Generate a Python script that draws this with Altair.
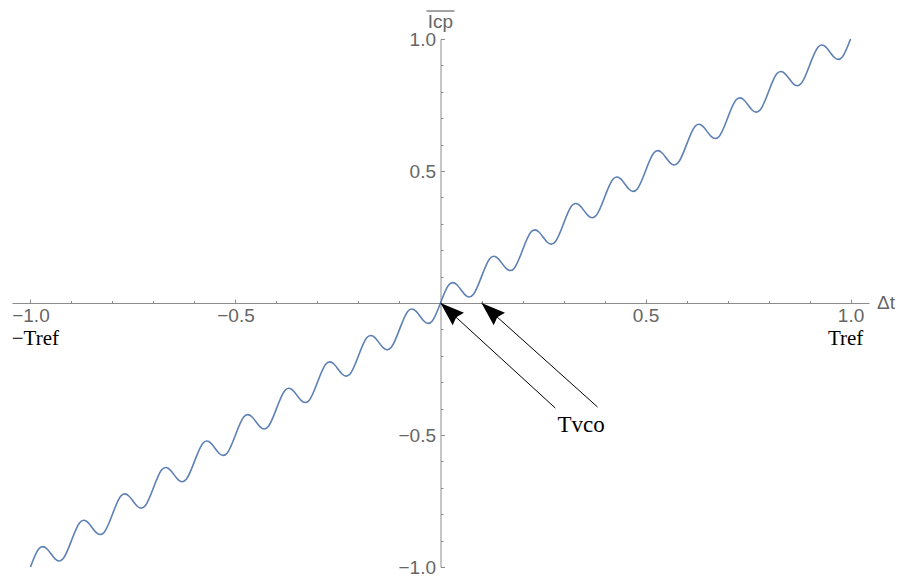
import altair as alt
import pandas as pd

# Charge-pump current versus phase offset, normalised to Tref
dt = [-1.00, -0.98, -0.96, -0.94, -0.92, -0.90, -0.88, -0.86, -0.84, -0.82,
      -0.80, -0.78, -0.76, -0.74, -0.72, -0.70, -0.68, -0.66, -0.64, -0.62,
      -0.60, -0.58, -0.56, -0.54, -0.52, -0.50, -0.48, -0.46, -0.44, -0.42,
      -0.40, -0.38, -0.36, -0.34, -0.32, -0.30, -0.28, -0.26, -0.24, -0.22,
      -0.20, -0.18, -0.16, -0.14, -0.12, -0.10, -0.08, -0.06, -0.04, -0.02,
      0.00, 0.02, 0.04, 0.06, 0.08, 0.10, 0.12, 0.14, 0.16, 0.18,
      0.20, 0.22, 0.24, 0.26, 0.28, 0.30, 0.32, 0.34, 0.36, 0.38,
      0.40, 0.42, 0.44, 0.46, 0.48, 0.50, 0.52, 0.54, 0.56, 0.58,
      0.60, 0.62, 0.64, 0.66, 0.68, 0.70, 0.72, 0.74, 0.76, 0.78,
      0.80, 0.82, 0.84, 0.86, 0.88, 0.90, 0.92, 0.94, 0.96, 0.98,
      1.00]
icp = [-1.000, -0.932, -0.931, -0.969, -0.968,
       -0.900, -0.832, -0.831, -0.869, -0.868,
       -0.800, -0.732, -0.731, -0.769, -0.768,
       -0.700, -0.632, -0.631, -0.669, -0.668,
       -0.600, -0.532, -0.531, -0.569, -0.568,
       -0.500, -0.432, -0.431, -0.469, -0.468,
       -0.400, -0.332, -0.331, -0.369, -0.368,
       -0.300, -0.232, -0.231, -0.269, -0.268,
       -0.200, -0.132, -0.131, -0.169, -0.168,
       -0.100, -0.032, -0.031, -0.069, -0.068,
       0.000, 0.068, 0.069, 0.031, 0.032,
       0.100, 0.168, 0.169, 0.131, 0.132,
       0.200, 0.268, 0.269, 0.231, 0.232,
       0.300, 0.368, 0.369, 0.331, 0.332,
       0.400, 0.468, 0.469, 0.431, 0.432,
       0.500, 0.568, 0.569, 0.531, 0.532,
       0.600, 0.668, 0.669, 0.631, 0.632,
       0.700, 0.768, 0.769, 0.731, 0.732,
       0.800, 0.868, 0.869, 0.831, 0.832,
       0.900, 0.968, 0.969, 0.931, 0.932,
       1.000]

# Tick positions
major_ticks = [-1.0, -0.5, 0.5, 1.0]
minor_ticks = [-0.9, -0.8, -0.7, -0.6, -0.4, -0.3, -0.2, -0.1,
               0.1, 0.2, 0.3, 0.4, 0.6, 0.7, 0.8, 0.9]

# Arrows labelled "Tvco": tips on the axis, tails near the label
arrow_tip_x = [0.0, 0.1]
arrow_tip_y = [0.0, 0.0]
arrow_tail_x = [0.280, 0.383]
arrow_tail_y = [-0.398, -0.394]

W, H = 857, 528
X_DOM = [-1.045, 1.045]
Y_DOM = [-1.0, 1.0]
AXIS_GREY = "#8c8c8c"
LABEL_GREY = "#666666"
BLUE = "#5E81B5"

curve_df = pd.DataFrame({"dt": dt, "icp": icp})
arrows_df = pd.DataFrame({"x": arrow_tip_x, "y": arrow_tip_y,
                          "x2": arrow_tail_x, "y2": arrow_tail_y})

xs = alt.Scale(domain=X_DOM, nice=False, zero=False)
ys = alt.Scale(domain=Y_DOM, nice=False, zero=False)


def x_axis(**kw):
    base = dict(grid=False, title=None, offset=-H / 2)
    base.update(kw)
    return alt.Axis(**base)


def y_axis(**kw):
    base = dict(grid=False, title=None, offset=-W / 2)
    base.update(kw)
    return alt.Axis(**base)


label_font = dict(labelFont="Liberation Sans", labelFontSize=19,
                  labelColor=LABEL_GREY, labelOverlap=False, labelFlush=False)

curve = alt.Chart(curve_df).mark_line(
    interpolate="natural", color=BLUE, strokeWidth=1.6
).encode(
    x=alt.X("dt:Q", scale=xs,
            axis=x_axis(orient="bottom", values=major_ticks, format=".1f",
                        ticks=False, domain=True, domainColor=AXIS_GREY,
                        domainWidth=1, labelPadding=3, **label_font)),
    y=alt.Y("icp:Q", scale=ys,
            axis=y_axis(orient="left", values=major_ticks, format=".1f",
                        ticks=False, domain=True, domainColor=AXIS_GREY,
                        domainWidth=1, labelPadding=5, **label_font)),
)

minor_layer = alt.Chart(curve_df).mark_line(opacity=0).encode(
    x=alt.X("dt:Q", scale=xs,
            axis=x_axis(orient="top", values=minor_ticks, labels=False,
                        domain=False, ticks=True, tickSize=2.5,
                        tickColor=AXIS_GREY, tickWidth=1)),
    y=alt.Y("icp:Q", scale=ys,
            axis=y_axis(orient="right", values=minor_ticks, labels=False,
                        domain=False, ticks=True, tickSize=2.5,
                        tickColor=AXIS_GREY, tickWidth=1)),
)

major_layer = alt.Chart(curve_df).mark_line(opacity=0).encode(
    x=alt.X("dt:Q", scale=xs,
            axis=x_axis(orient="top", values=major_ticks, labels=False,
                        domain=False, ticks=True, tickSize=4,
                        tickColor=AXIS_GREY, tickWidth=1)),
    y=alt.Y("icp:Q", scale=ys,
            axis=y_axis(orient="right", values=major_ticks, labels=False,
                        domain=False, ticks=True, tickSize=4,
                        tickColor=AXIS_GREY, tickWidth=1)),
)

plain_x = alt.X("x:Q", scale=xs, axis=None)
plain_y = alt.Y("y:Q", scale=ys, axis=None)

arrow_lines = alt.Chart(arrows_df).mark_rule(color="black", strokeWidth=1).encode(
    x=plain_x, y=plain_y, x2="x2:Q", y2="y2:Q"
)

arrow_heads = alt.Chart(arrows_df).mark_point(
    shape="M0,0 L-3,-1.05 L-2.65,0 L-3,1.05 Z",
    size=256, angle=222, filled=True, color="black", opacity=1,
    strokeWidth=0,
).encode(x=plain_x, y=plain_y)

tvco = alt.Chart(pd.DataFrame({"x": [0.343], "y": [-0.489], "t": ["Tvco"]})).mark_text(
    font="Liberation Serif", fontSize=23, color="black",
    align="center", baseline="alphabetic"
).encode(x=plain_x, y=plain_y, text="t:N")

tref = alt.Chart(pd.DataFrame({"x": [-0.988, 0.988], "y": [0.0, 0.0],
                               "t": ["\u2212Tref", "Tref"]})).mark_text(
    font="Liberation Serif", fontSize=21, color="black",
    align="center", baseline="alphabetic", dy=42
).encode(x=plain_x, y=plain_y, text="t:N")

dt_title = alt.Chart(pd.DataFrame({"x": [X_DOM[1]], "y": [0.0], "t": ["\u0394t"]})).mark_text(
    font="Liberation Sans", fontSize=19, color=LABEL_GREY,
    align="left", baseline="middle", dx=8
).encode(x=plain_x, y=plain_y, text="t:N")

icp_title = alt.Chart(pd.DataFrame({"x": [0.0], "y": [1.0], "t": ["Icp"]})).mark_text(
    font="Liberation Sans", fontSize=19, color=LABEL_GREY,
    align="center", baseline="alphabetic", dy=-11
).encode(x=plain_x, y=plain_y, text="t:N")

icp_bar = alt.Chart(pd.DataFrame({"x": [-0.034], "x2": [0.034],
                                  "y": [1.106]})).mark_rule(
    color=LABEL_GREY, strokeWidth=1.2
).encode(x=plain_x, x2="x2:Q", y=plain_y)

chart = alt.layer(
    minor_layer, major_layer, curve, arrow_lines, arrow_heads,
    tvco, tref, dt_title, icp_title, icp_bar
).resolve_axis(
    x="independent", y="independent"
).properties(
    width=W, height=H,
    autosize=alt.AutoSizeParams(type="none"),
    padding={"left": 12, "top": 39, "right": 29, "bottom": 10},
    background="white",
).configure_view(stroke=None, strokeWidth=0)

chart.save("out.html", embed_options={"renderer": "svg", "actions": False})
